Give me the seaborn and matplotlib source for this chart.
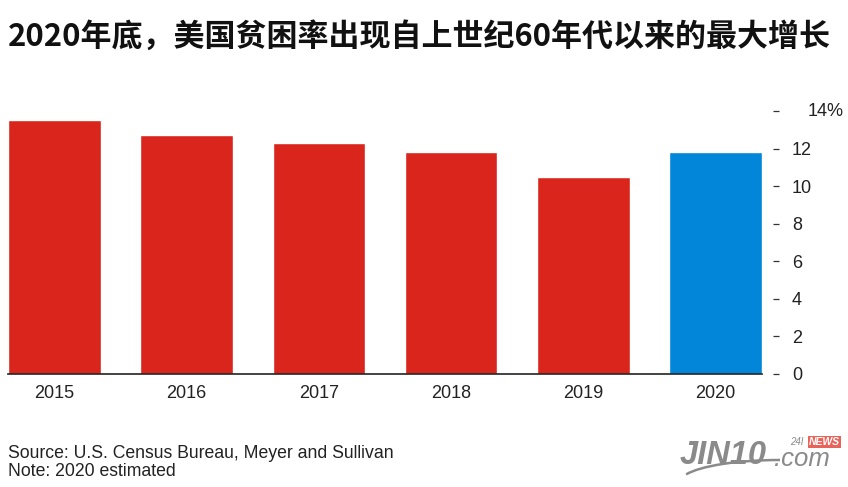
import pandas as pd
import matplotlib.pyplot as plt
import seaborn as sns
from matplotlib.patches import Arc

# datos
anios = ['2015', '2016', '2017', '2018', '2019', '2020']
tasa_pobreza = [13.5, 12.7, 12.3, 11.8, 10.5, 11.8]
colores = ['#DA251D', '#DA251D', '#DA251D', '#DA251D', '#DA251D', '#0186DA']
ticks_y = [0, 2, 4, 6, 8, 10, 12, 14]
etiquetas_y = ['0', '2', '4', '6', '8', '10', '12', '']

titulo = '2020年底，美国贫困率出现自上世纪60年代以来的最大增长'
fuente = 'Source: U.S. Census Bureau, Meyer and Sullivan'
nota = 'Note: 2020 estimated'

df = pd.DataFrame({'anio': anios, 'tasa': tasa_pobreza})

sns.set_style('white')
plt.rcParams['font.family'] = ['Liberation Sans', 'Noto Sans CJK SC', 'DejaVu Sans']

fig = plt.figure(figsize=(8.48, 4.87), dpi=100)
ax = fig.add_axes([8/848, 1-374/487, 754/848, 263/487])

sns.barplot(data=df, x='anio', y='tasa', hue='anio', palette=colores,
            width=0.7, legend=False, saturation=1, ax=ax)

ax.set_xlim(-0.35, 5.35)
ax.set_ylim(0, 14)
ax.set_xlabel('')
ax.set_ylabel('')

for lado in ['top', 'left', 'right']:
    ax.spines[lado].set_visible(False)
ax.spines['bottom'].set_color('#222222')
ax.spines['bottom'].set_linewidth(1.2)

ax.yaxis.tick_right()
ax.spines['right'].set_position(('outward', 8))
ax.set_yticks(ticks_y)
ax.set_yticklabels(etiquetas_y)
ax.tick_params(axis='y', length=4.5, width=0.9, color='#333333', pad=9,
               labelsize=13, labelcolor='#222222', direction='out', right=True)
ax.tick_params(axis='x', length=0, pad=8, labelsize=13, labelcolor='#222222')
for t in ax.get_yticklabels():
    t.set_horizontalalignment('left')
# la etiqueta de 14% va desplazada
fig.text(808/848, 1-111/487, '14%', fontsize=13, color='#222222',
         ha='left', va='center')

fig.text(8/848, 1-37/487, titulo, fontsize=22.3, fontweight='bold',
         family=['Noto Sans CJK SC', 'DejaVu Sans'], color='#111111',
         ha='left', va='center')

fig.text(8/848, 1-453/487, fuente, fontsize=12.7, color='#222222', ha='left', va='center')
fig.text(8/848, 1-471/487, nota, fontsize=12.7, color='#222222', ha='left', va='center')

# logo
fig.text(680/848, 1-456/487, 'JIN10', fontsize=23.5, fontweight='bold', style='italic',
         color='#8a8a8a', ha='left', va='center', family='Liberation Sans')
fig.text(774/848, 1-459/487, '.com', fontsize=18.5, style='italic',
         color='#8a8a8a', ha='left', va='center', family='Liberation Sans')
fig.text(790/848, 1-442/487, '24I', fontsize=7, style='italic',
         color='#8a8a8a', ha='left', va='center')
fig.text(809/848, 1-442/487, 'NEWS', fontsize=7.5, fontweight='bold', style='italic',
         color='white', ha='left', va='center',
         bbox=dict(boxstyle='square,pad=0.1', fc='#e8645a', ec='none'))
arco = Arc((780/848, 1-482/487), 200/848, 44/487, theta1=90, theta2=172,
           transform=fig.transFigure, color='#8a8a8a', lw=1.8)
fig.add_artist(arco)

plt.savefig('out.png', dpi=100)
